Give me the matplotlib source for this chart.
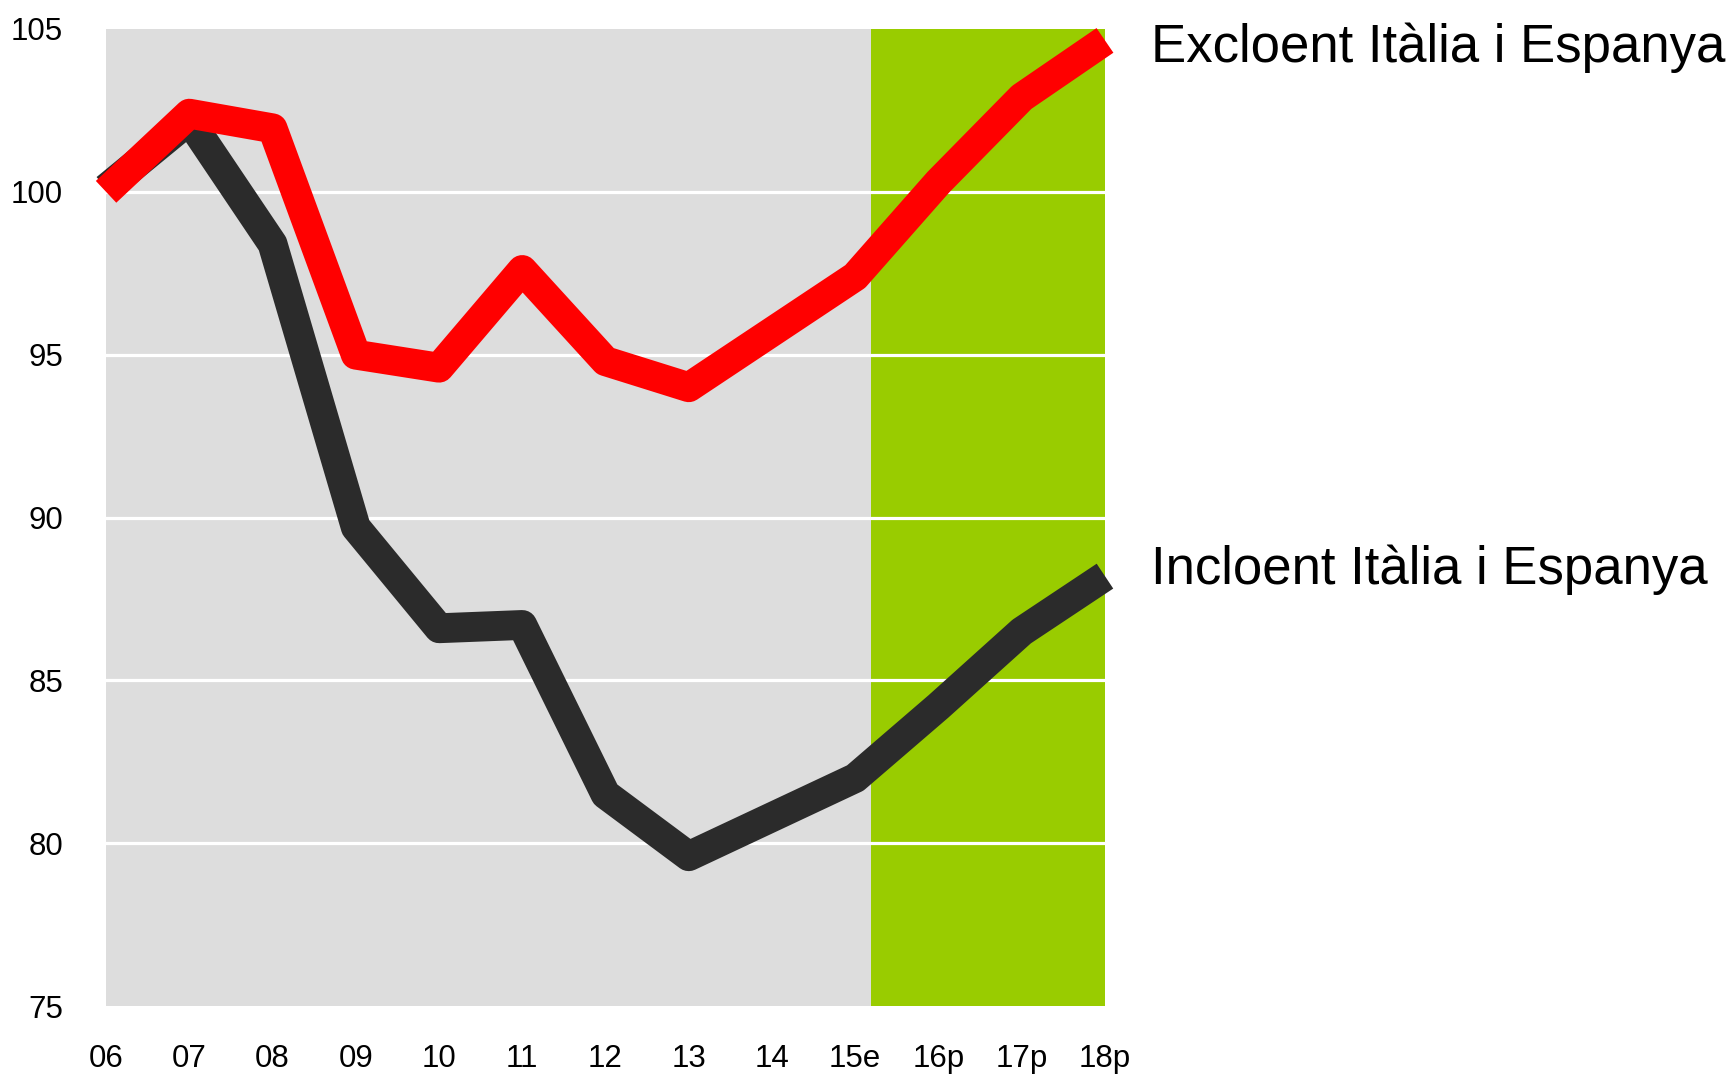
import matplotlib.pyplot as plt

plt.rcParams["font.family"] = ["Liberation Sans", "DejaVu Sans"]

# ---------------------------------------------------------------
# Data (index 2006 = 100)
# ---------------------------------------------------------------
years = ["06", "07", "08", "09", "10", "11", "12", "13", "14", "15e", "16p", "17p", "18p"]
excl_it_es = [100.0, 102.4, 101.95, 95.0, 94.6, 97.6, 94.8, 94.0, 95.7, 97.4, 100.3, 102.9, 104.65]
incl_it_es = [100.1, 102.2, 98.4, 89.7, 86.6, 86.7, 81.5, 79.6, 80.8, 82.0, 84.2, 86.5, 88.2]
forecast_start = 9.19  # where the shaded forecast band begins
label_excl = "Excloent Itàlia i Espanya"
label_incl = "Incloent Itàlia i Espanya"

x = list(range(len(years)))

fig = plt.figure(figsize=(17.33, 10.74), dpi=100)
ax = fig.add_axes([0.0612, 0.0633, 0.5764, 0.9097])

ax.set_facecolor("#dddddd")
ax.axvspan(forecast_start, len(years) - 1, color="#99cc00", zorder=0.5, lw=0)

for v in [80, 85, 90, 95, 100]:
    ax.axhline(v, color="white", lw=2.3, zorder=1)

ax.plot(x, incl_it_es, color="#2b2b2b", lw=21.5, solid_joinstyle="round",
        solid_capstyle="butt", zorder=3, clip_on=False)
ax.plot(x, excl_it_es, color="#ff0000", lw=21.5, solid_joinstyle="round",
        solid_capstyle="butt", zorder=4, clip_on=False)

ax.set_xlim(0, len(years) - 1)
ax.set_ylim(75, 105)
ax.set_xticks(x)
ax.set_xticklabels(years)
ax.set_yticks([75, 80, 85, 90, 95, 100, 105])
ax.tick_params(axis="both", length=0, labelsize=22.5)
ax.tick_params(axis="y", pad=31)
ax.tick_params(axis="x", pad=27)
for s in ax.spines.values():
    s.set_visible(False)

ax.text(12.55, 104.43, label_excl, fontsize=38, va="center", ha="left", clip_on=False)
ax.text(12.55, 88.39, label_incl, fontsize=38, va="center", ha="left", clip_on=False)

plt.savefig("out.png", dpi=100)
plt.close()
